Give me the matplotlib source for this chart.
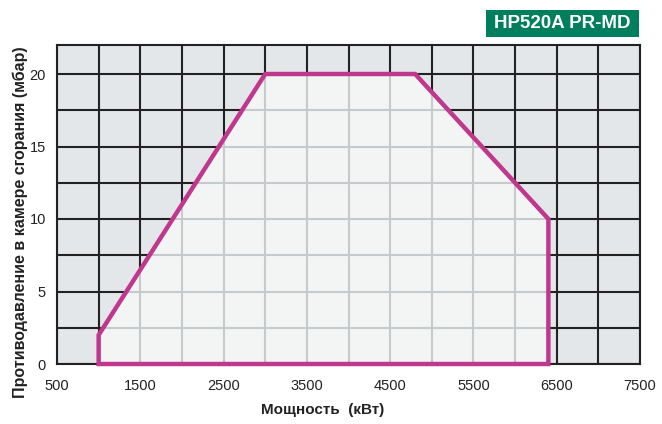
import matplotlib.pyplot as plt
import numpy as np
from matplotlib.patches import Polygon, Rectangle

# рабочее поле горелки
power_kw = [1000, 1000, 3000, 4800, 6400, 6400]
pressure_mbar = [0, 2, 20, 20, 10, 0]

x_ticks = [500, 1500, 2500, 3500, 4500, 5500, 6500, 7500]
y_ticks = [0, 5, 10, 15, 20]
x_grid = np.arange(500, 7501, 500)
y_grid = np.arange(0, 22.1, 2.5)

title = "HP520A PR-MD"
x_label = "Мощность  (кВт)"
y_label = "Противодавление в камере сгорания (мбар)"

plt.rcParams['font.family'] = ['Liberation Sans', 'DejaVu Sans']

fig = plt.figure(figsize=(6.62, 4.24), dpi=100)
ax = fig.add_axes([57 / 662, 60 / 424, 583 / 662, 319 / 424])
ax.set_xlim(500, 7500)
ax.set_ylim(0, 22)
ax.set_facecolor('#e4e7ea')

# тёмная сетка снаружи
for xv in x_grid:
    ax.axvline(xv, color='#222222', lw=1.5, zorder=1)
for yv in y_grid:
    ax.axhline(yv, color='#222222', lw=1.5, zorder=1)

# заливка поля и светлая сетка внутри
poly = Polygon(list(zip(power_kw, pressure_mbar)), closed=True,
               facecolor='#f3f5f5', edgecolor='none', zorder=2)
ax.add_patch(poly)
for xv in x_grid:
    ln = ax.axvline(xv, color='#c5cacd', lw=1.5, zorder=3)
    ln.set_clip_path(poly)
for yv in y_grid:
    ln = ax.axhline(yv, color='#c5cacd', lw=1.5, zorder=3)
    ln.set_clip_path(poly)

ax.add_patch(Polygon(list(zip(power_kw, pressure_mbar)), closed=True,
                     facecolor='none', edgecolor='#c0378e', lw=3.2,
                     joinstyle='miter', zorder=5, clip_on=False))

ax.set_xticks(x_ticks)
ax.set_yticks(y_ticks)
ax.tick_params(axis='x', length=0, labelsize=10.5, colors='#222222', pad=11)
ax.tick_params(axis='y', length=0, labelsize=10.5, colors='#222222', pad=8)
for s in ax.spines.values():
    s.set_color('#222222')
    s.set_linewidth(1.5)

fig.text(323 / 662, 1 - 410 / 424, x_label, ha='center', va='center',
         fontsize=11, fontweight='bold', color='#222222')
fig.text(20 / 662, 1 - 222 / 424, y_label, ha='center', va='center',
         rotation=90, fontsize=11.5, fontweight='bold', color='#222222')

# зелёная плашка с моделью
fig.patches.append(Rectangle((486 / 662, 1 - 37 / 424), 153 / 662, 27 / 424,
                             transform=fig.transFigure, facecolor='#007f5f',
                             edgecolor='none'))
fig.text(562.5 / 662, 1 - 23.5 / 424, title, ha='center', va='center',
         fontsize=13.5, fontweight='bold', color='white')

fig.savefig('out.png', dpi=100)
